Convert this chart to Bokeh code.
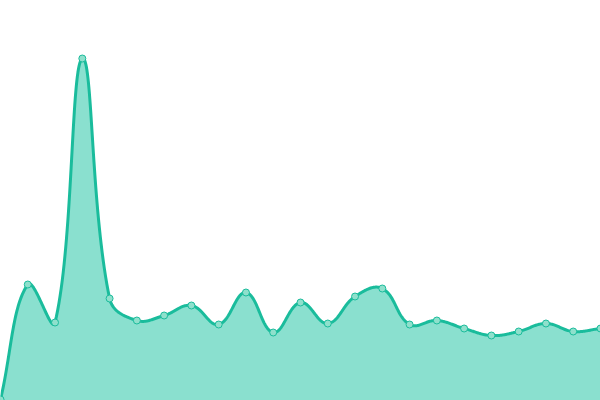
import numpy as np
from bokeh.plotting import figure
from bokeh.embed import file_html
from bokeh.resources import INLINE
from bokeh.models import ColumnDataSource, Range1d

# ---- data ----
categories = list(range(23))
values = [1, 116, 78, 342, 102, 80, 85, 95, 76, 108, 68, 98, 77,
          104, 112, 76, 80, 72, 65, 69, 77, 69, 72]

W, H = 600, 400
X_MIN, X_MAX = 0, 22
Y_MIN, Y_MAX = 0, 400
TENSION = 0.4

LINE = "#1abc9c"
FILL = "#8ae0cf"
MARK = "#8fe0cc"

# ---- spline (Chart.js style, distances in screen space) ----
xs = np.asarray(categories, float)
ys = np.asarray(values, float)
kx = W / (X_MAX - X_MIN)
ky = H / (Y_MAX - Y_MIN)
n = len(xs)
c_prev = np.zeros((n, 2))
c_next = np.zeros((n, 2))
for i in range(n):
    pi = max(i - 1, 0)
    ni = min(i + 1, n - 1)
    px, py = xs[pi], ys[pi]
    cx, cy = xs[i], ys[i]
    nx, ny = xs[ni], ys[ni]
    d01 = np.hypot((cx - px) * kx, (cy - py) * ky)
    d12 = np.hypot((nx - cx) * kx, (ny - cy) * ky)
    tot = d01 + d12
    s01 = d01 / tot if tot else 0.0
    s12 = d12 / tot if tot else 0.0
    fa = TENSION * s01
    fb = TENSION * s12
    c_prev[i] = [cx - fa * (nx - px), cy - fa * (ny - py)]
    c_next[i] = [cx + fb * (nx - px), cy + fb * (ny - py)]
c_prev[:, 0] = np.clip(c_prev[:, 0], X_MIN, X_MAX)
c_next[:, 0] = np.clip(c_next[:, 0], X_MIN, X_MAX)
c_prev[:, 1] = np.clip(c_prev[:, 1], Y_MIN, Y_MAX)
c_next[:, 1] = np.clip(c_next[:, 1], Y_MIN, Y_MAX)

cx_all, cy_all = [], []
t = np.linspace(0, 1, 40)
for i in range(n - 1):
    P0 = np.array([xs[i], ys[i]])
    P1 = c_next[i]
    P2 = c_prev[i + 1]
    P3 = np.array([xs[i + 1], ys[i + 1]])
    tt = t if i == 0 else t[1:]
    b = ((1 - tt) ** 3)[:, None] * P0 + (3 * (1 - tt) ** 2 * tt)[:, None] * P1 \
        + (3 * (1 - tt) * tt ** 2)[:, None] * P2 + (tt ** 3)[:, None] * P3
    cx_all.extend(b[:, 0])
    cy_all.extend(b[:, 1])

curve = ColumnDataSource(dict(x=cx_all, y=cy_all, y0=[Y_MIN] * len(cx_all)))
pts = ColumnDataSource(dict(x=categories, y=values))

p = figure(width=W, height=H, output_backend="svg", toolbar_location=None,
           x_range=Range1d(X_MIN, X_MAX), y_range=Range1d(Y_MIN, Y_MAX),
           min_border=0, min_border_left=0, min_border_right=0,
           min_border_top=0, min_border_bottom=0)
p.axis.visible = False
p.grid.visible = False
p.outline_line_color = None
p.background_fill_color = "white"
p.border_fill_color = "white"

p.varea(x="x", y1="y0", y2="y", source=curve, fill_color=FILL, fill_alpha=1)
p.line(x="x", y="y", source=curve, line_color=LINE, line_width=3,
       line_join="round", line_cap="round")
p.scatter(x="x", y="y", source=pts, size=7, fill_color=MARK,
          line_color=LINE, line_width=1)

p.styles = {"position": "fixed", "left": "0px", "top": "0px"}

open("out.html", "w").write(file_html(p, INLINE))
